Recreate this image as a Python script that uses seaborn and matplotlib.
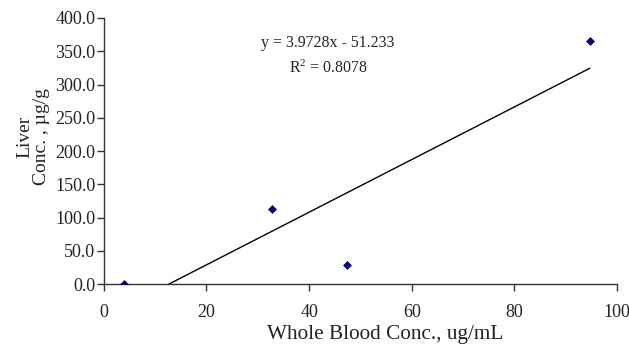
import numpy as np
import pandas as pd
import matplotlib
matplotlib.use('Agg')
import matplotlib.pyplot as plt
import seaborn as sns

blood_conc = [4.0, 32.8, 47.3, 94.7]
liver_conc = [0.0, 112.5, 28.0, 366.0]
equation = 'y = 3.9728x - 51.233'
r_squared = '$\\mathregular{R^2}$ = 0.8078'

df = pd.DataFrame({'blood': blood_conc, 'liver': liver_conc})

sns.set_style('white')
plt.rcParams['font.family'] = ['Liberation Serif', 'DejaVu Serif']
plt.rcParams['mathtext.fontset'] = 'custom'
plt.rcParams['mathtext.rm'] = 'Liberation Serif'

fig = plt.figure(figsize=(6.29, 3.46), dpi=100)
ax = fig.add_axes([0.165, 0.179, 0.816, 0.769])

sns.regplot(data=df, x='blood', y='liver', ax=ax, ci=None,
            marker='D', scatter_kws={'s': 16, 'color': '#00007a', 'edgecolor': '#00007a',
                                     'linewidths': 0.5, 'alpha': 1, 'zorder': 3},
            line_kws={'color': 'black', 'lw': 1.0})

ax.set_xlim(0, 100)
ax.set_ylim(0, 400)
ax.set_xticks(np.arange(0, 101, 20))
ax.set_yticks(np.arange(0, 401, 50))
ax.set_yticklabels([f'{v:.1f}' for v in np.arange(0, 401, 50)])
ax.tick_params(axis='both', direction='out', length=5, width=1, colors='#333333',
               labelcolor='#222222', labelsize=13, bottom=True, left=True)
ax.tick_params(axis='x', pad=9)
ax.tick_params(axis='y', pad=1)
sns.despine(ax=ax)
for s in ['left', 'bottom']:
    ax.spines[s].set_color('#333333')
    ax.spines[s].set_linewidth(1.0)

ax.set_xlabel('Whole Blood Conc., ug/mL', fontsize=15.3, color='#222222')
ax.xaxis.set_label_coords(0.549, -0.155)
ax.set_ylabel('Liver\nConc. , µg/g', fontsize=14, color='#222222', linespacing=1.0)
ax.yaxis.set_label_coords(-0.105, 0.553)

ax.text(0.437, 0.905, equation, transform=ax.transAxes, ha='center', va='center',
        fontsize=11.4, color='#222222')
ax.text(0.437, 0.81, r_squared, transform=ax.transAxes, ha='center', va='center',
        fontsize=11.4, color='#222222')

fig.savefig('out.png', dpi=100)
